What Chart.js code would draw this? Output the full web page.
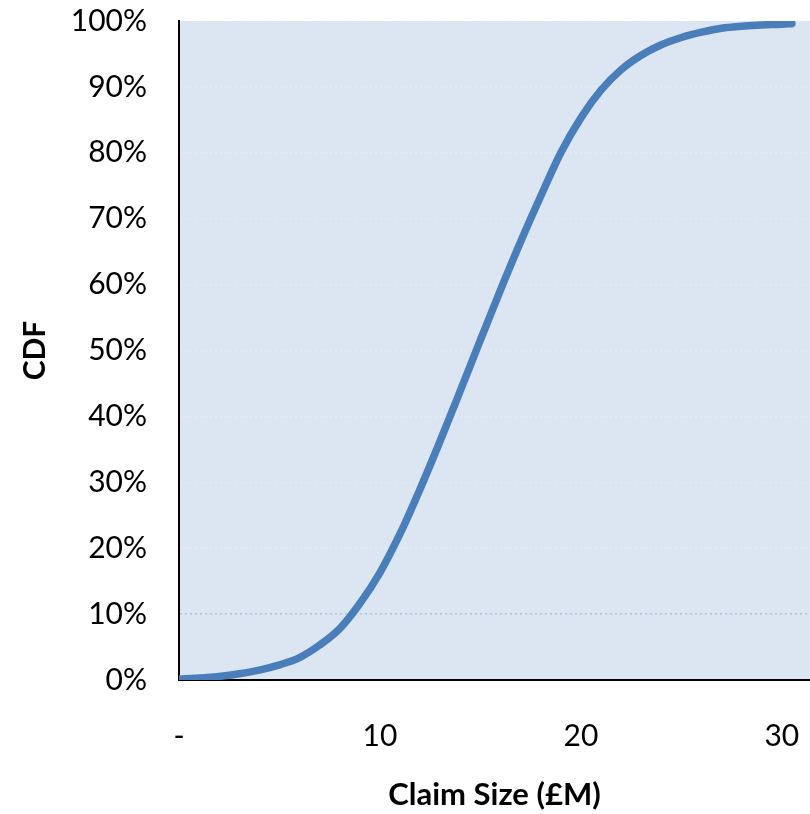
<!DOCTYPE html>
<html>
<head>
<meta charset="utf-8">
<script src="https://cdn.jsdelivr.net/npm/chart.js@4/dist/chart.umd.min.js"></script>
<style>
    html, body { margin: 0; padding: 0; background: #fff; }
    #wrap { width: 810px; height: 814px; position: relative; }
</style>
</head>
<body>
<div id="wrap"><canvas id="cdfChart"></canvas></div>
<script>
const claimSizes = [0, 1, 2, 3, 4, 5, 6, 7, 8, 9, 10, 11, 12, 13, 14, 15, 16, 17, 18, 19, 20,
    21, 22, 23, 24, 25, 26, 27, 28, 29, 30, 30.5];
const cdfValues = [0.15, 0.3, 0.55, 0.95, 1.5, 2.3, 3.4, 5.3, 7.8, 11.6, 16.3, 22.2, 29.0, 36.3, 43.9, 51.6,
    59.2, 66.5, 73.4, 80.0, 85.3, 89.5, 92.6, 94.8, 96.4, 97.5, 98.3, 98.9, 99.2, 99.4, 99.5, 99.6];
const xTicks = [0, 10, 20, 30];
const xTickLabels = ['-', '10', '20', '30'];

const fontFamily = 'Lato, "Liberation Sans", sans-serif';

const plotBackground = {
    id: 'plotBackground',
    beforeDraw(chart) {
        const { ctx, chartArea } = chart;
        ctx.save();
        ctx.fillStyle = '#dce6f2';
        ctx.fillRect(chartArea.left, chartArea.top, chartArea.right - chartArea.left, chartArea.bottom - chartArea.top);
        ctx.restore();
    },
};

document.addEventListener('DOMContentLoaded', () => {
    const ctx = document.getElementById('cdfChart');

    new Chart(ctx, {
        type: 'line',
        data: {
            datasets: [
                {
                    data: claimSizes.map((x, i) => ({ x, y: cdfValues[i] })),
                    borderColor: '#4a7ebb',
                    borderWidth: 7.5,
                    borderCapStyle: 'round',
                    pointRadius: 0,
                    cubicInterpolationMode: 'monotone',
                    fill: false,
                },
            ],
        },
        options: {
            responsive: true,
            maintainAspectRatio: false,
            animation: false,
            layout: {
                padding: { top: 21, right: 0, left: 0, bottom: 0 },
            },
            scales: {
                x: {
                    type: 'linear',
                    min: 0,
                    max: 31.4,
                    afterFit: (scale) => {
                        scale.height = 134;
                        scale.paddingLeft = 0;
                        scale.paddingRight = 0;
                    },
                    afterBuildTicks: (scale) => {
                        scale.ticks = xTicks.map((value) => ({ value }));
                    },
                    ticks: {
                        padding: 38,
                        color: '#000',
                        font: { family: fontFamily, size: 30 },
                        maxRotation: 0,
                        callback: (value) => xTickLabels[xTicks.indexOf(value)] ?? '',
                    },
                    grid: {
                        display: false,
                        drawTicks: false,
                    },
                    border: {
                        display: true,
                        color: '#000',
                        width: 2,
                    },
                    title: {
                        display: true,
                        text: 'Claim Size (£M)',
                        color: '#000',
                        font: { family: fontFamily, size: 31, weight: 'bold' },
                        padding: { top: 0, bottom: 0 },
                    },
                },
                y: {
                    min: 0,
                    max: 100,
                    afterFit: (scale) => {
                        scale.width = 179;
                        scale.paddingTop = 0;
                        scale.paddingBottom = 0;
                    },
                    ticks: {
                        stepSize: 10,
                        padding: 32,
                        color: '#000',
                        font: { family: fontFamily, size: 30 },
                        callback: (value) => `${value}%`,
                    },
                    grid: {
                        drawTicks: false,
                        // only the 10% line shows up clearly, the rest are barely there
                        color: (context) => (context.tick.value === 10 ? 'rgba(170, 190, 225, 0.9)' : 'rgba(255, 255, 255, 0.2)'),
                        lineWidth: 1.5,
                    },
                    border: {
                        display: true,
                        color: '#000',
                        width: 2,
                        dash: [2, 3],
                    },
                    title: {
                        display: true,
                        text: 'CDF',
                        color: '#000',
                        font: { family: fontFamily, size: 30, weight: 'bold' },
                        padding: { top: 17, bottom: 0 },
                    },
                },
            },
            plugins: {
                legend: { display: false },
                tooltip: { enabled: false },
            },
        },
        plugins: [plotBackground],
    });
});
</script>
</body>
</html>
